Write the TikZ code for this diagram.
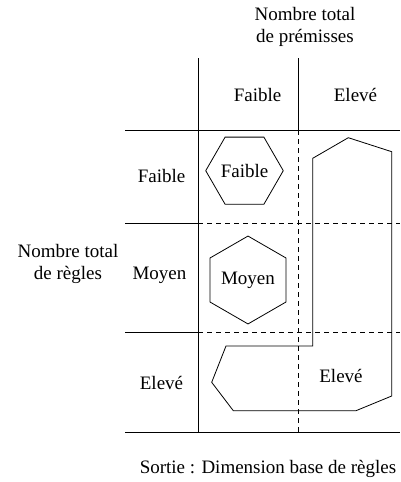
\documentclass[tikz,border=0pt]{standalone}
\usepackage{fontspec}
\setmainfont{Liberation Serif}
\usetikzlibrary{positioning,shapes.geometric}

\begin{document}
\begin{tikzpicture}[x=1pt,y=-1pt,
txt/.style={font=\fontsize{19}{22}\selectfont,inner sep=0pt,align=center},
solidline/.style={line width=.8pt},
dashline/.style={line width=.8pt,dash pattern=on 5pt off 4pt},
hexa/.style={draw,line width=.8pt,regular polygon,regular polygon sides=6,inner sep=0pt,font=\fontsize{19}{22}\selectfont}]
\useasboundingbox (0,0) rectangle (401,482);
% grille
\coordinate (vatop) at (198,58);
\coordinate (vabot) at (198,432);
\coordinate (vbtop) at (298,58);
\coordinate (vbmid) at (298,130);
\coordinate (vbbot) at (298,432);
\coordinate (haleft) at (125,130);
\coordinate (haright) at (400,130);
\coordinate (hbleft) at (125,223);
\coordinate (hbmid) at (198,223);
\coordinate (hbright) at (400,223);
\coordinate (hcleft) at (125,332);
\coordinate (hcmid) at (198,332);
\coordinate (hcright) at (400,332);
\coordinate (hdleft) at (125,432);
\coordinate (hdright) at (400,432);
\draw [solidline] (vatop) -- (vabot);
\draw [solidline] (vbtop) -- (vbmid);
\draw [dashline] (vbmid) -- (vbbot);
\draw [solidline] (haleft) -- (haright);
\draw [solidline] (hbleft) -- (hbmid);
\draw [dashline] (hbmid) -- (hbright);
\draw [solidline] (hcleft) -- (hcmid);
\draw [dashline] (hcmid) -- (hcright);
\draw [solidline] (hdleft) -- (hdright);
% titres
\node (premisses) [txt] at (305,27) {Nombre total\\de prémisses};
\node (regles) [txt] at (68,264) {Nombre total\\de règles};
\node (sortie) [txt] at (268,469) {Sortie : Dimension base de règles};
\node (colfaible) [txt] at (257.5,95) {Faible};
\node (coleleve) [txt] at (355.5,95) {Elevé};
\node (rowfaible) [txt] at (161.5,176) {Faible};
\node (rowmoyen) [txt] at (159.5,275) {Moyen};
\node (roweleve) [txt] at (161.5,383) {Elevé};
% sorties
\node (outfaible) [hexa,minimum size=72pt] at (244.5,170.7) {Faible};
\node (outmoyen) [hexa,minimum size=83pt,shape border rotate=30] at (248,280) {Moyen};
\draw [solidline] (312.7,158.3) -- (348.3,137.7) -- (391.7,151.7) -- (391.7,396)
  -- (356,410.7) -- (233.3,410.7) -- (211.7,382.3) -- (226,346) -- (312.7,346) -- cycle;
\node (outeleve) [txt] at (341,376) {Elevé};
\end{tikzpicture}
\end{document}
